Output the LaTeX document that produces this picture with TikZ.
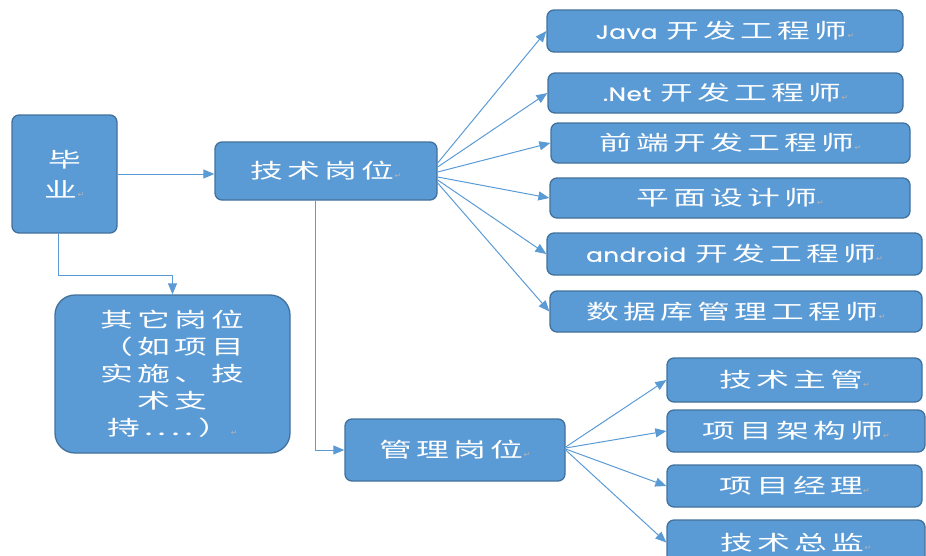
\documentclass[tikz,border=0pt]{standalone}
\usepackage{fontspec}
\usepackage{graphicx}
\usetikzlibrary{arrows.meta}
\setmainfont{Noto Sans CJK SC}[LetterSpace=13]
\newfontfamily\lat{Poppins}[LetterSpace=2, FakeBold=0.6]
\newfontfamily\dejavu{DejaVu Sans}
\definecolor{boxfill}{HTML}{5B9BD5}
\definecolor{boxline}{HTML}{41719C}
\newcommand\pmark{{\dejavu\fontsize{8}{8}\selectfont\color{gray!60}\char"21B5}}
\newcommand\latw[1]{\scalebox{1.3}[1]{\lat\fontsize{19}{19}\selectfont #1}\hspace{9pt}}
\newcommand\tx[1]{\scalebox{1.6}[1]{#1}}
\tikzset{
  box/.style={draw=boxline, line width=1.3pt, fill=boxfill, rounded corners=7pt,
    text=white, inner sep=0pt, align=center, font=\fontsize{20.5}{27}\selectfont},
  conn/.style={draw=boxfill, line width=1pt, -{Triangle[length=11pt,width=9pt]}},
}
\begin{document}
\begin{tikzpicture}[x=1pt,y=-1pt]
\useasboundingbox (0,0) rectangle (926,555);
\clip (0,0) rectangle (926,555);
% left part
\node[box, minimum width=105pt, minimum height=118pt, font=\fontsize{20.5}{30}\selectfont] (biye) at (64.5,174) {\tx{毕}\\\tx{业}\pmark};
\node[box, minimum width=222pt, minimum height=58pt] (jishu) at (326,171) {\tx{技术岗位}\pmark};
\node[box, rounded corners=20pt, minimum width=235pt, minimum height=158pt] (qita) at (172.5,374)
  {\tx{其它岗位}\\\tx{（如项目}\\\tx{实施、技}\\\tx{术支}\\\tx{持....）}\pmark};
\node[box, minimum width=220pt, minimum height=62pt] (guanli) at (455,450) {\tx{管理岗位}\pmark};
% technical roles
\node[box, minimum width=356pt, minimum height=42pt] (java) at (725,31) {\latw{Java}\tx{开发工程师}\pmark};
\node[box, minimum width=355pt, minimum height=40pt] (net) at (725.5,93) {\latw{.Net}\tx{开发工程师}\pmark};
\node[box, minimum width=359pt, minimum height=40pt] (front) at (730.5,143) {\tx{前端开发工程师}\pmark};
\node[box, minimum width=360pt, minimum height=40pt] (design) at (730,198) {\tx{平面设计师}\pmark};
\node[box, minimum width=375pt, minimum height=42pt] (android) at (734.5,254) {\latw{android}\tx{开发工程师}\pmark};
\node[box, minimum width=372pt, minimum height=41pt] (db) at (736,311.5) {\tx{数据库管理工程师}\pmark};
% management roles
\node[box, minimum width=255pt, minimum height=44pt] (lead) at (794.5,380) {\tx{技术主管}\pmark};
\node[box, minimum width=258pt, minimum height=42pt] (arch) at (796,431) {\tx{项目架构师}\pmark};
\node[box, minimum width=255pt, minimum height=42pt] (pm) at (794.5,486) {\tx{项目经理}\pmark};
\node[box, minimum width=258pt, minimum height=45pt] (cto) at (796,542.5) {\tx{技术总监}\pmark};
% connectors
\draw[conn] (biye.east) -- (biye.east -| jishu.west);
\draw[conn] ([xshift=-6.5pt]biye.south) -- ++(0,42) -| (qita.north);
\draw[conn] ([xshift=-11pt]jishu.south) |- (guanli.west);
\draw[conn] ([yshift=8pt]jishu.east) -- (java.west);
\draw[conn] ([yshift=4pt]jishu.east) -- (net.west);
\draw[conn] ([yshift=-1pt]jishu.east) -- (front.west);
\draw[conn] ([yshift=-6pt]jishu.east) -- (design.west);
\draw[conn] ([yshift=-9pt]jishu.east) -- (android.west);
\draw[conn] ([yshift=-12pt]jishu.east) -- (db.west);
\draw[conn] ([yshift=3pt]guanli.east) -- (lead.west);
\draw[conn] ([yshift=2pt]guanli.east) -- (arch.west);
\draw[conn] ([yshift=1pt]guanli.east) -- (pm.west);
\draw[conn] (guanli.east) -- (cto.west);
\end{tikzpicture}
\end{document}
